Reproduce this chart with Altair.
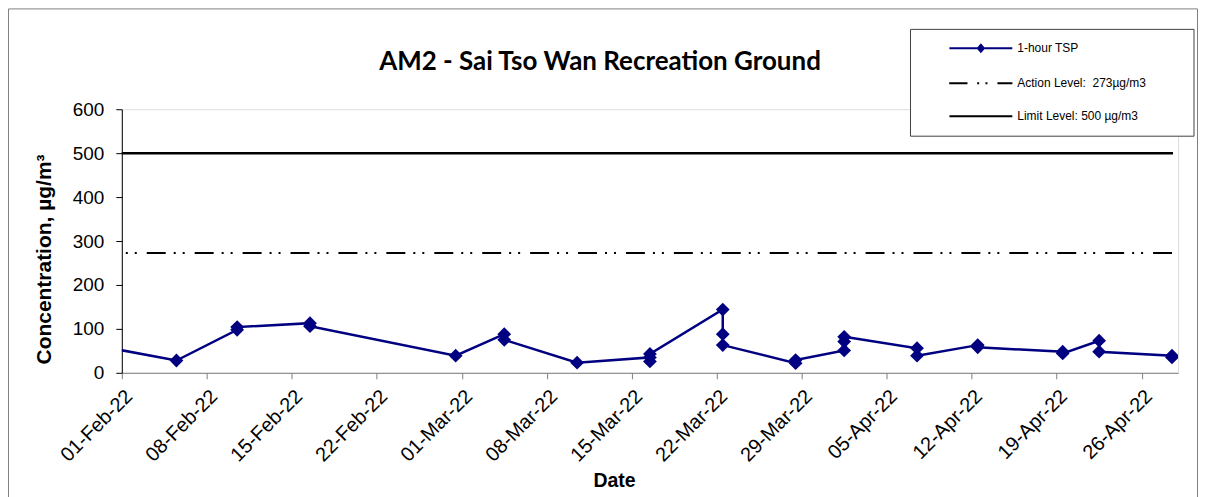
import altair as alt
import pandas as pd

# ---- data ----
tsp_dates = [
    "2022-01-30T12:00",
    "2022-02-05T12:00",
    "2022-02-10T12:00", "2022-02-10T12:00",
    "2022-02-16T12:00", "2022-02-16T12:00",
    "2022-02-28T12:00",
    "2022-03-04T12:00", "2022-03-04T12:00",
    "2022-03-10T12:00",
    "2022-03-16T12:00", "2022-03-16T12:00", "2022-03-16T12:00",
    "2022-03-22T12:00", "2022-03-22T12:00", "2022-03-22T12:00",
    "2022-03-28T12:00", "2022-03-28T12:00",
    "2022-04-01T12:00", "2022-04-01T12:00", "2022-04-01T12:00",
    "2022-04-07T12:00", "2022-04-07T12:00",
    "2022-04-12T12:00", "2022-04-12T12:00",
    "2022-04-19T12:00", "2022-04-19T12:00",
    "2022-04-22T12:00", "2022-04-22T12:00",
    "2022-04-28T12:00", "2022-04-28T12:00",
]
tsp_values = [
    59,
    28,
    98, 104,
    113, 106,
    39,
    88, 75,
    23,
    35, 26, 43,
    144, 88, 63,
    22, 29,
    51, 71, 82,
    56, 39,
    63, 58,
    48, 44,
    73, 48,
    39, 35,
]

level_start = "2022-02-01T00:00"
level_end = "2022-04-28T14:00"
action_level = 273
limit_level = 500

tick_dates = [
    (2, 1), (2, 8), (2, 15), (2, 22), (3, 1), (3, 8), (3, 15),
    (3, 22), (3, 29), (4, 5), (4, 12), (4, 19), (4, 26),
]
y_ticks = [0, 100, 200, 300, 400, 500, 600]

leg_names = ["1-hour TSP", "Action Level: \u00a0273µg/m3", "Limit Level: 500 µg/m3"]
leg_colors = ["#000080", "black", "black"]
leg_paths = [
    "M-3.15,0H3.15M-0.3,0L0,-0.35L0.3,0L0,0.35Z",
    "M-3.17,0H-1.34M-0.37,0H-0.17M0.46,0H0.66M1.66,0H3.16",
    "M-3.15,0H3.15",
]

title_text = ["AM2 - Sai Tso Wan Recreation Ground"]
x_title = "Date"
y_title = "Concentration, µg/m³"

# ---- build chart ----
W, H = 1058, 264
FONT = "Liberation Sans"

tsp = pd.DataFrame({"date": tsp_dates, "value": tsp_values, "seq": list(range(len(tsp_values)))})
levels = pd.DataFrame({
    "start": [level_start, level_start],
    "end": [level_end, level_end],
    "value": [action_level, limit_level],
    "kind": ["action", "limit"],
})
leg_df = pd.DataFrame({"series": leg_names})
title_df = pd.DataFrame({"title": title_text})

x_scale = alt.Scale(domain=[alt.DateTime(year=2022, month=2, date=1),
                            alt.DateTime(year=2022, month=4, date=29)])
y_scale = alt.Scale(domain=[0, 600], nice=False)

x_axis = alt.Axis(
    values=[alt.DateTime(year=2022, month=m, date=d) for m, d in tick_dates],
    format="%d-%b-%y", labelAngle=-45, labelAlign="right", labelBaseline="top",
    labelFont=FONT, labelFontSize=20, labelColor="black", labelPadding=7,
    tickSize=6, tickColor="#808080", domainColor="#808080", grid=False,
    titleFont=FONT, titleFontSize=19.5, titleFontWeight="bold", titleColor="black",
    titleX=493, titleY=108, titleBaseline="middle", titleAnchor="start", titleAlign="center",
    labelOverlap=False, labelFlush=False,
)
y_axis = alt.Axis(
    values=y_ticks, labelFont=FONT, labelFontSize=19, labelColor="black", labelPadding=12,
    tickSize=6, tickColor="black", domainColor="black", grid=False,
    titleFont=FONT, titleFontSize=21, titleFontWeight="bold", titleColor="black",
    titleX=-77, titleY=150, titleBaseline="middle", titleAngle=-90, titleAlign="center",
    titleAnchor="start",
)

base = alt.Chart(tsp)
line = base.mark_line(color="#000080", strokeWidth=2.5, clip=True).encode(
    x=alt.X("date:T", scale=x_scale, axis=x_axis, title=x_title),
    y=alt.Y("value:Q", scale=y_scale, axis=y_axis, title=y_title),
    order="seq:Q",
)
points = base.mark_point(shape="diamond", filled=True, size=190, color="#000080",
                         opacity=1, clip=True).encode(
    x="date:T", y="value:Q",
)

action = alt.Chart(levels).transform_filter(alt.datum.kind == "action").mark_rule(
    color="black", strokeWidth=2, strokeDash=[19, 8, 2, 7, 2, 10], strokeDashOffset=23
).encode(x="start:T", x2="end:T", y="value:Q")
limit = alt.Chart(levels).transform_filter(alt.datum.kind == "limit").mark_rule(
    color="black", strokeWidth=2.5
).encode(x="start:T", x2="end:T", y="value:Q")

leg = alt.Legend(
    title=None, orient="none", legendX=849.5, legendY=-72, symbolSize=400,
    symbolStrokeWidth=2, symbolOpacity=1, labelFont=FONT, labelFontSize=12,
    labelColor="black", labelOffset=25.5, rowPadding=16, padding=0, labelLimit=300,
)
legend_box = alt.Chart(leg_df.head(1)).mark_rect(
    fill="white", stroke="#404040", strokeWidth=1
).encode(x=alt.value(790), x2=alt.value(1074), y=alt.value(-80), y2=alt.value(27))
legend_carrier = alt.Chart(leg_df).mark_point(filled=True, size=400, clip=True).encode(
    x=alt.value(0), y=alt.value(-3000),
    fill=alt.Fill("series:N", scale=alt.Scale(domain=leg_names, range=leg_colors), legend=leg),
    stroke=alt.Stroke("series:N", scale=alt.Scale(domain=leg_names, range=leg_colors), legend=leg),
    shape=alt.Shape("series:N", scale=alt.Scale(domain=leg_names, range=leg_paths), legend=leg),
)
border = alt.Chart(leg_df.head(1)).mark_rect(
    fill=None, stroke="#7f7f7f", strokeWidth=1
).encode(x=alt.value(-113.5), x2=alt.value(1077.5), y=alt.value(-100.5), y2=alt.value(400))

title_mark = alt.Chart(title_df).mark_text(
    font="Lato", fontSize=26, fontWeight="bold", color="black",
    align="center", baseline="middle"
).encode(text="title:N", x=alt.value(479), y=alt.value(-47))

chart = alt.layer(
    border, action, limit, line, points, legend_box, legend_carrier, title_mark
).properties(
    width=W, height=H,
    autosize=alt.AutoSizeParams(type="none"),
    padding={"left": 114, "top": 101, "right": 22, "bottom": 124},
).configure_view(stroke=None).configure(background="white")

chart.save("out.html", embed_options={"renderer": "svg", "actions": False})
